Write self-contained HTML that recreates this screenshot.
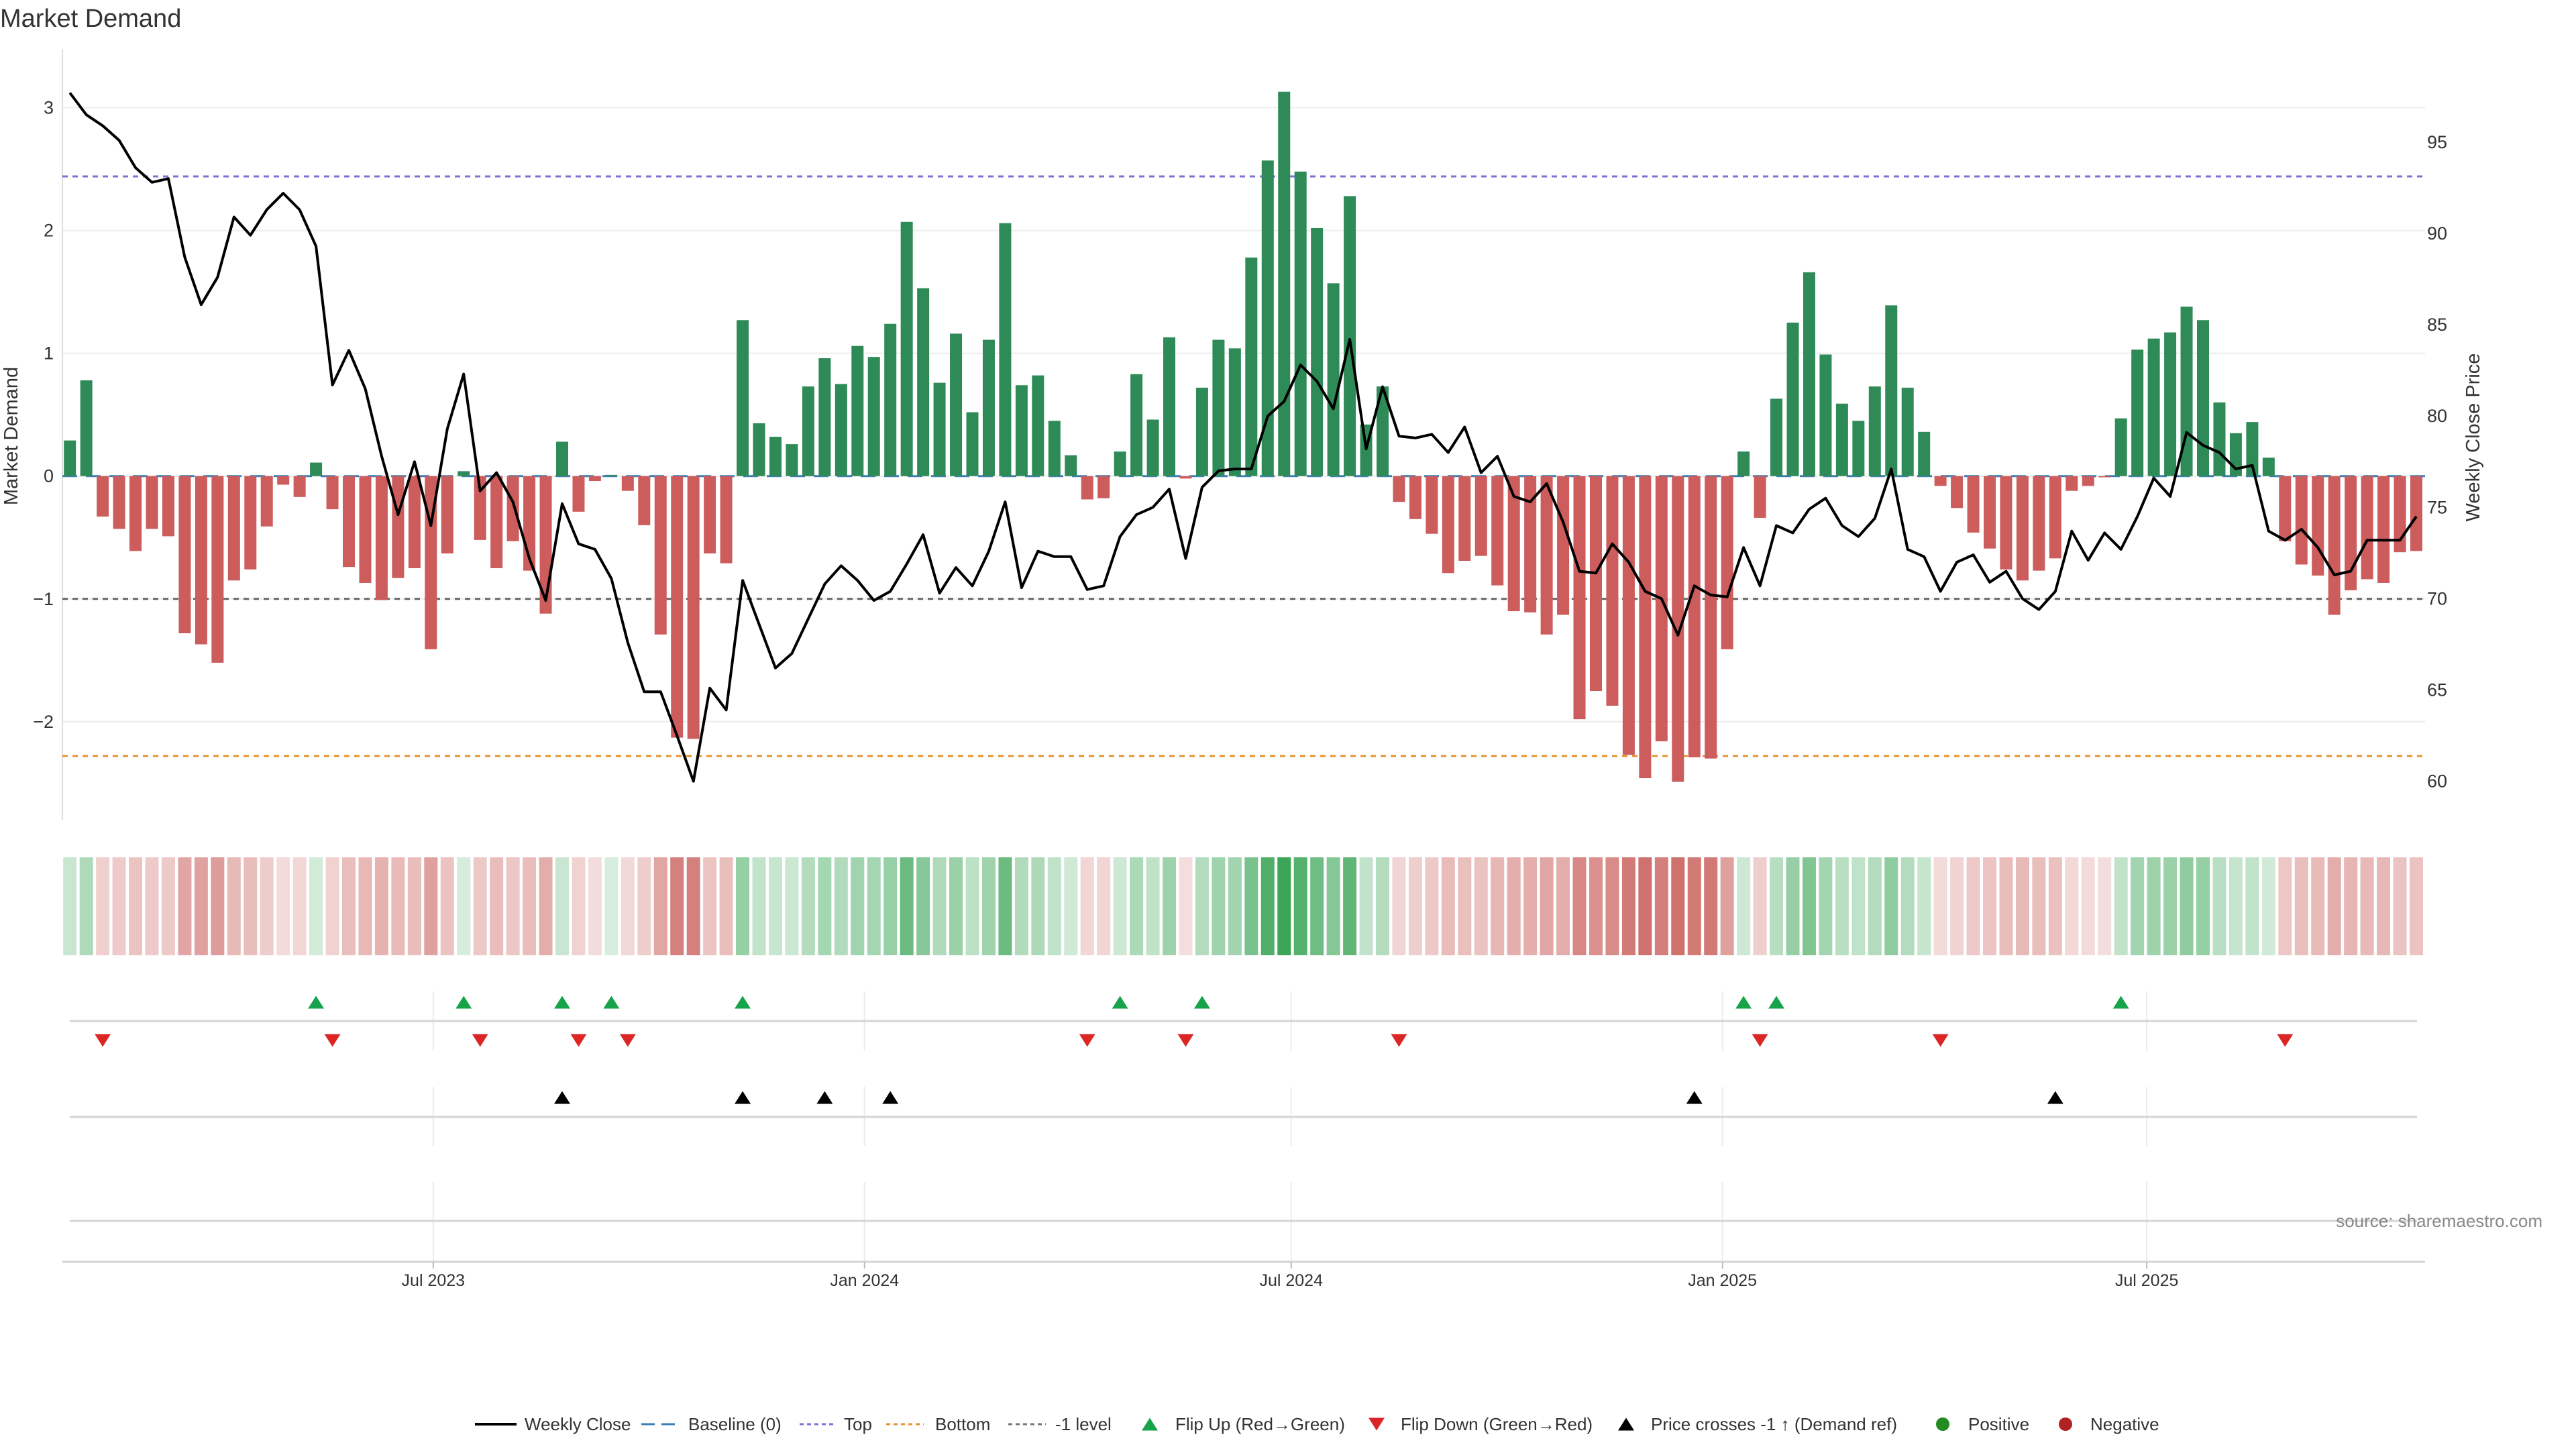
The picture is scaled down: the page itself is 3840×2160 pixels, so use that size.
<!DOCTYPE html>
<html><head><meta charset="utf-8"><title>Market Demand</title>
<style>
html,body{margin:0;padding:0;background:#fff;}
svg{display:block;font-family:"Liberation Sans","DejaVu Sans",sans-serif;}
</style></head>
<body>
<svg id="chart" width="3840" height="2160" viewBox="0 0 3840 2160" xmlns="http://www.w3.org/2000/svg">
<rect x="0" y="0" width="3840" height="2160" fill="#fff"/>
<text x="0" y="40" font-size="38" fill="#333">Market Demand</text>
<g id="grid"></g>
<g id="refs"></g>
<g id="bars"></g>
<g id="line"></g>
<g id="heat"></g>
<g id="panels"></g>
<g id="axes"></g>
<g id="legend"></g>
</svg>
<script>
// ---- data ----
const demand = [0.29,0.78,-0.33,-0.43,-0.61,-0.43,-0.49,-1.28,-1.37,-1.52,-0.85,-0.76,-0.41,-0.07,-0.17,0.11,-0.27,-0.74,-0.87,-1.01,-0.83,-0.75,-1.41,-0.63,0.04,-0.52,-0.75,-0.53,-0.77,-1.12,0.28,-0.29,-0.04,0.01,-0.12,-0.40,-1.29,-2.13,-2.14,-0.63,-0.71,
1.27,0.43,0.32,0.26,0.73,0.96,0.75,1.06,0.97,1.24,2.07,1.53,0.76,1.16,0.52,1.11,2.06,0.74,0.82,0.45,0.17,-0.19,-0.18,0.20,0.83,0.46,1.13,-0.02,0.72,1.11,1.04,1.78,2.57,3.13,2.48,2.02,1.57,2.28,0.42,0.73,
-0.21,-0.35,-0.47,-0.79,-0.69,-0.65,-0.89,-1.10,-1.11,-1.29,-1.13,-1.98,-1.75,-1.87,-2.27,-2.46,-2.16,-2.49,-2.29,-2.30,-1.41,0.20,-0.34,0.63,1.25,1.66,0.99,0.59,0.45,0.73,1.39,0.72,0.36,-0.08,-0.26,-0.46,-0.59,-0.76,-0.85,-0.77,-0.67,-0.12,-0.08,-0.01,0.47,1.03,1.12,1.17,1.38,1.27,0.60,0.35,0.44,0.15,-0.53,-0.72,-0.81,-1.13,-0.93,-0.84,-0.87,-0.62,-0.61];
const weeklyClose = [97.7,96.5,95.9,95.1,93.6,92.8,93.0,88.7,86.1,87.6,90.9,89.9,91.3,92.2,91.3,89.3,81.7,83.6,81.5,77.8,74.6,77.5,74.0,79.3,82.3,75.9,76.9,75.3,72.2,69.9,75.2,73.0,72.7,71.1,67.6,64.9,64.9,62.5,60.0,65.1,63.9,
71.0,68.6,66.2,67.0,68.9,70.8,71.8,71.0,69.9,70.4,71.9,73.5,70.3,71.7,70.7,72.6,75.3,70.6,72.6,72.3,72.3,70.5,70.7,73.4,74.6,75.0,76.0,72.2,76.1,77.0,77.1,77.1,80.0,80.8,82.8,81.9,80.4,84.2,78.2,81.6,
78.9,78.8,79.0,78.0,79.4,76.9,77.8,75.6,75.3,76.3,74.2,71.5,71.4,73.0,72.0,70.4,70.0,68.0,70.7,70.2,70.1,72.8,70.7,74.0,73.6,74.9,75.5,74.0,73.4,74.4,77.1,72.7,72.3,70.4,72.0,72.4,70.9,71.5,70.0,69.4,70.4,73.7,72.1,73.6,72.7,74.5,76.6,75.6,79.1,78.4,78.0,77.1,77.3,73.7,73.2,73.8,72.8,71.3,71.5,73.2,73.2,73.2,74.5];
const priceCrossUp = [30,41,46,50,99,121];
const startDate = "2023-01-27";
const xTickDates = ["2023-07-01","2024-01-01","2024-07-01","2025-01-01","2025-07-01"];
const xTickLabels = ["Jul 2023","Jan 2024","Jul 2024","Jan 2025","Jul 2025"];
const leftTicks = [-2,-1,0,1,2,3];
const leftTickLabels = ["\u22122","\u22121","0","1","2","3"];
const rightTicks = [60,65,70,75,80,85,90,95];
const topLevel = 2.44, bottomLevel = -2.28, minusLevel = -1;

// ---- scales ----
const NS = "http://www.w3.org/2000/svg";
const PL = 93, PR = 3615, PT = 73, PB = 1222;
const xAt = i => 104.2 + 24.46 * i;
const yL = v => 709.7 - 183.05 * v;
const yR = p => 892.4 - 27.22 * (p - 70);
const dayIdx = d => (Date.parse(d) - Date.parse(startDate)) / 86400000 / 7;
function mk(tag, attrs, parent){ const e = document.createElementNS(NS, tag); for (const k in attrs) e.setAttribute(k, attrs[k]); parent.appendChild(e); return e; }
const G = id => document.getElementById(id);

// gridlines + left spine
leftTicks.forEach((t, k) => {
  const l = mk('line', {x1:PL, x2:PR, y1:yL(t), y2:yL(t), stroke:'#ececec', 'stroke-width':2}, G('grid'));
  
  
  const tx = mk('text', {x:80, y:yL(t)+9, 'font-size':27, fill:'#333', 'text-anchor':'end'}, G('axes'));
  tx.textContent = leftTickLabels[k];
  
  
});
const spine = mk('line', {x1:PL, x2:PL, y1:PT, y2:PB, stroke:'#ddd', 'stroke-width':2}, G('grid'));


rightTicks.forEach(t => {
  const tx = mk('text', {x:3618, y:yR(t)+9, 'font-size':27, fill:'#333'}, G('axes'));
  tx.textContent = t;
  
  
});
let at = mk('text', {x:0, y:0, 'font-size':29, fill:'#333', 'text-anchor':'middle', transform:'translate(26,650) rotate(-90)'}, G('axes'));
at.textContent = 'Market Demand';


at = mk('text', {x:0, y:0, 'font-size':29, fill:'#333', 'text-anchor':'middle', transform:'translate(3696,652) rotate(-90)'}, G('axes'));
at.textContent = 'Weekly Close Price';



// reference lines
function refLine(v, color, dash, name){
  const l = mk('line', {x1:PL, x2:PR, y1:yL(v), y2:yL(v), stroke:color, 'stroke-width':3, 'stroke-dasharray':dash}, G('refs'));
  
  
}
refLine(topLevel, '#7f6fd6', '8 7', 'top-level-line');
refLine(bottomLevel, '#e8922e', '8 7', 'bottom-level-line');
refLine(minusLevel, '#666', '8 7', 'minus-one-level-line');

// bars
demand.forEach((v, i) => {
  const y0 = yL(0), y1 = yL(v);
  const r = mk('rect', {x:xAt(i)-9, y:Math.min(y0,y1), width:18, height:Math.max(Math.abs(y1-y0),0.5), fill: v >= 0 ? '#2e8b57' : '#cd5c5c'}, G('bars'));
  
  
});
const base = mk('line', {x1:PL, x2:PR, y1:yL(0), y2:yL(0), stroke:'#3d7fb5', 'stroke-width':3, 'stroke-dasharray':'22 13'}, G('refs'));



// price line
const pl = mk('polyline', {points: weeklyClose.map((p,i)=>xAt(i).toFixed(1)+','+yR(p).toFixed(1)).join(' '), fill:'none', stroke:'#000', 'stroke-width':4, 'stroke-linejoin':'round'}, G('line'));



// heat strip
function heatColor(v){
  const a = Math.min(1, 0.2 + 0.27 * Math.abs(v));
  const c = v >= 0 ? [60,166,88] : [200,92,88];
  return 'rgb(' + c.map(x => Math.round(255 - a * (255 - x))).join(',') + ')';
}
demand.forEach((v, i) => {
  const r = mk('rect', {x:xAt(i)-10, y:1278, width:20, height:146, fill:heatColor(v)}, G('heat'));
  
  
});

// marker panels
xTickDates.forEach(d => {
  const x = xAt(dayIdx(d));
  [[1478,1567],[1620,1708],[1762,1881]].forEach(([a,b]) => {
    const l = mk('line', {x1:x, x2:x, y1:a, y2:b, stroke:'#ececec', 'stroke-width':2}, G('panels'));
    
    
  });
});
[1522,1665,1820].forEach(y => {
  const l = mk('line', {x1:104, x2:3603, y1:y, y2:y, stroke:'#d4d4d4', 'stroke-width':3}, G('panels'));
  
  
});
function tri(x, y, up, color, parent){
  const h = 19, w = 12;
  const pts = up ? `${x-w},${y+h/2} ${x+w},${y+h/2} ${x},${y-h/2}` : `${x-w},${y-h/2} ${x+w},${y-h/2} ${x},${y+h/2}`;
  return mk('polygon', {points:pts, fill:color}, parent);
}
for (let i = 1; i < demand.length; i++) {
  if (demand[i-1] < 0 && demand[i] >= 0) {
    const t = tri(xAt(i), 1494, true, '#16a34a', G('panels'));
    
    
  }
  if (demand[i-1] >= 0 && demand[i] < 0) {
    const t = tri(xAt(i), 1551, false, '#dc2626', G('panels'));
    
    
  }
}
priceCrossUp.forEach(i => {
  const t = tri(xAt(i), 1636, true, '#000', G('panels'));
  
  
});

// x axis
const xa = mk('line', {x1:93, x2:3615, y1:1881, y2:1881, stroke:'#d4d4d4', 'stroke-width':3}, G('axes'));


xTickDates.forEach((d, k) => {
  const x = xAt(dayIdx(d));
  const tk = mk('line', {x1:x, x2:x, y1:1881, y2:1891, stroke:'#bbb', 'stroke-width':2}, G('axes'));
  
  
  const tx = mk('text', {x:x, y:1917, 'font-size':25, fill:'#333', 'text-anchor':'middle'}, G('axes'));
  tx.textContent = xTickLabels[k];
  
  
});
const src = mk('text', {x:3790, y:1829, 'font-size':26, fill:'#888', 'text-anchor':'end'}, G('axes'));
src.textContent = 'source: sharemaestro.com';



// legend
const LY = 2123, LG = G('legend');
function legText(x, s){ const t = mk('text', {x:x, y:LY+9, 'font-size':26, fill:'#333'}, LG); t.textContent = s;   }
function legLine(x1, x2, color, dash, w){ const l = mk('line', {x1:x1, x2:x2, y1:LY, y2:LY, stroke:color, 'stroke-width':w, 'stroke-dasharray':dash}, LG);   }
legLine(708, 770, '#000', 'none', 4); legText(782, 'Weekly Close');
legLine(956, 1012, '#3d7fb5', '20 10', 3); legText(1026, 'Baseline (0)');
legLine(1192, 1244, '#7f6fd6', '6 5', 3); legText(1258, 'Top');
legLine(1321, 1377, '#e8922e', '6 5', 3); legText(1394, 'Bottom');
legLine(1503, 1559, '#777', '6 5', 3); legText(1573, '-1 level');
let lm = tri(1714, LY, true, '#16a34a', LG);  
legText(1752, 'Flip Up (Red\u2192Green)');
lm = tri(2052, LY, false, '#dc2626', LG);  
legText(2088, 'Flip Down (Green\u2192Red)');
lm = tri(2424, LY, true, '#000', LG);  
legText(2461, 'Price crosses -1 \u2191 (Demand ref)');
lm = mk('circle', {cx:2896, cy:LY, r:10, fill:'#228b22'}, LG);  
legText(2934, 'Positive');
lm = mk('circle', {cx:3079, cy:LY, r:10, fill:'#b22222'}, LG);  
legText(3116, 'Negative');
</script>
</body></html>
